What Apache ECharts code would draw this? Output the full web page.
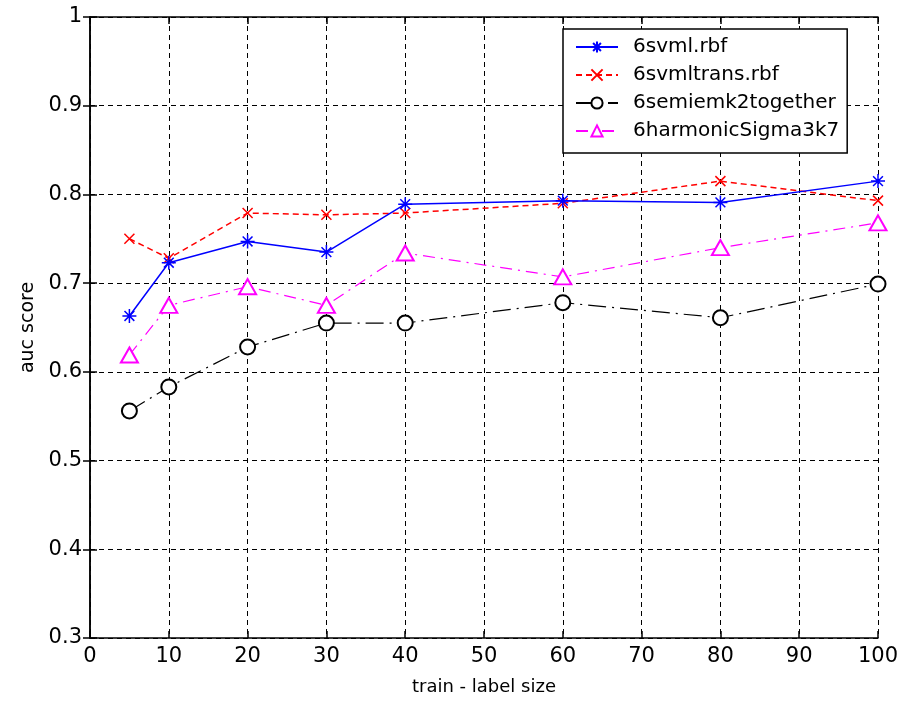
<!DOCTYPE html>
<html>
<head>
<meta charset="utf-8">
<script src="https://cdn.jsdelivr.net/npm/echarts@6/dist/echarts.min.js"></script>
<style>
html,body{margin:0;padding:0;background:#fff;}
#chart{width:906px;height:701px;}
</style>
</head>
<body>
<div id="chart"></div>
<script>
var xValues = [5, 10, 20, 30, 40, 60, 80, 100];
var seriesNames = ['6svml.rbf', '6svmltrans.rbf', '6semiemk2together', '6harmonicSigma3k7'];
var svmlRbf = [0.663, 0.723, 0.747, 0.735, 0.789, 0.793, 0.791, 0.815];
var svmltransRbf = [0.750, 0.728, 0.779, 0.777, 0.779, 0.790, 0.815, 0.793];
var semiemk2together = [0.556, 0.583, 0.628, 0.655, 0.655, 0.678, 0.661, 0.699];
var harmonicSigma3k7 = [0.619, 0.675, 0.696, 0.675, 0.734, 0.707, 0.740, 0.768];
var xAxisTitle = 'train - label size';
var yAxisTitle = 'auc score';

function pairs(vals) {
  return xValues.map(function (x, i) { return [x, vals[i]]; });
}

var FONT = 'DejaVu Sans';
var chart = echarts.init(document.getElementById('chart'), null, {renderer: 'canvas'});

var gridLine = {show: true, lineStyle: {color: '#000', type: [5, 4], width: 1}};
var axLine = {show: true, lineStyle: {color: '#000', width: 1.5}};
var axTick = {show: true, inside: true, length: 7, lineStyle: {color: '#000', width: 1.5}};

var asterisk = 'path://M0,5L10,5M5,0L5,10M1.5,1.5L8.5,8.5M8.5,1.5L1.5,8.5';
var cross = 'path://M0,0L10,10M10,0L0,10';

var option = {
  backgroundColor: '#fff',
  animation: false,
  grid: {left: 90, top: 17, width: 788, height: 621},
  legend: {
    left: 563, top: 29,
    orient: 'vertical',
    backgroundColor: '#fff',
    borderColor: '#000', borderWidth: 1.5, borderRadius: 0,
    padding: [8, 8, 12, 12],
    itemWidth: 42, itemHeight: 14, itemGap: 8,
    textStyle: {fontFamily: FONT, fontSize: 20, color: '#000', padding: [0, 0, 0, 10], width: 226},
    data: seriesNames
  },
  xAxis: [{
    type: 'value', min: 0, max: 100, interval: 10,
    position: 'bottom',
    axisLine: axLine, axisTick: axTick, splitLine: gridLine,
    axisLabel: {fontFamily: FONT, fontSize: 21, color: '#000', margin: 8},
    name: xAxisTitle, nameLocation: 'middle', nameGap: 40,
    nameTextStyle: {fontFamily: FONT, fontSize: 18, color: '#000'}
  }, {
    type: 'value', min: 0, max: 100, interval: 10,
    position: 'top',
    axisLine: axLine, axisTick: axTick, splitLine: {show: false},
    axisLabel: {show: false}
  }],
  yAxis: [{
    type: 'value', min: 0.3, max: 1, interval: 0.1,
    position: 'left',
    axisLine: axLine, axisTick: axTick, splitLine: gridLine,
    axisLabel: {fontFamily: FONT, fontSize: 21, color: '#000', margin: 8,
      formatter: function (v) { return Math.abs(v - 1) < 1e-9 ? '1' : v.toFixed(1); }},
    name: yAxisTitle, nameLocation: 'middle', nameGap: 52, nameRotate: 90,
    nameTextStyle: {fontFamily: FONT, fontSize: 19, color: '#000'}
  }, {
    type: 'value', min: 0.3, max: 1, interval: 0.1,
    position: 'right',
    axisLine: axLine, axisTick: axTick, splitLine: {show: false},
    axisLabel: {show: false}
  }],
  series: [{
    name: seriesNames[0], type: 'line', data: pairs(svmlRbf),
    symbol: asterisk, symbolSize: 14, showAllSymbol: true,
    lineStyle: {color: '#0000ff', width: 1.5, type: 'solid'},
    itemStyle: {color: 'none', borderColor: '#0000ff', borderWidth: 1.5},
    z: 5
  }, {
    name: seriesNames[1], type: 'line', data: pairs(svmltransRbf),
    symbol: cross, symbolSize: 10,
    lineStyle: {color: '#ff0000', width: 1.5, type: [6, 4]},
    itemStyle: {color: 'none', borderColor: '#ff0000', borderWidth: 1.5},
    z: 4
  }, {
    name: seriesNames[2], type: 'line', data: pairs(semiemk2together),
    symbol: 'emptyCircle', symbolSize: 15,
    lineStyle: {color: '#000', width: 1.2, type: [18, 6, 2, 6]},
    itemStyle: {color: '#000', borderColor: '#000', borderWidth: 1.2},
    z: 3
  }, {
    name: seriesNames[3], type: 'line', data: pairs(harmonicSigma3k7),
    symbol: 'emptyTriangle', symbolSize: [17, 15],
    lineStyle: {color: '#ff00ff', width: 1.2, type: [12, 6, 2, 6]},
    itemStyle: {color: '#ff00ff', borderColor: '#ff00ff', borderWidth: 1.5},
    z: 3
  }]
};
chart.setOption(option);
</script>
</body>
</html>
